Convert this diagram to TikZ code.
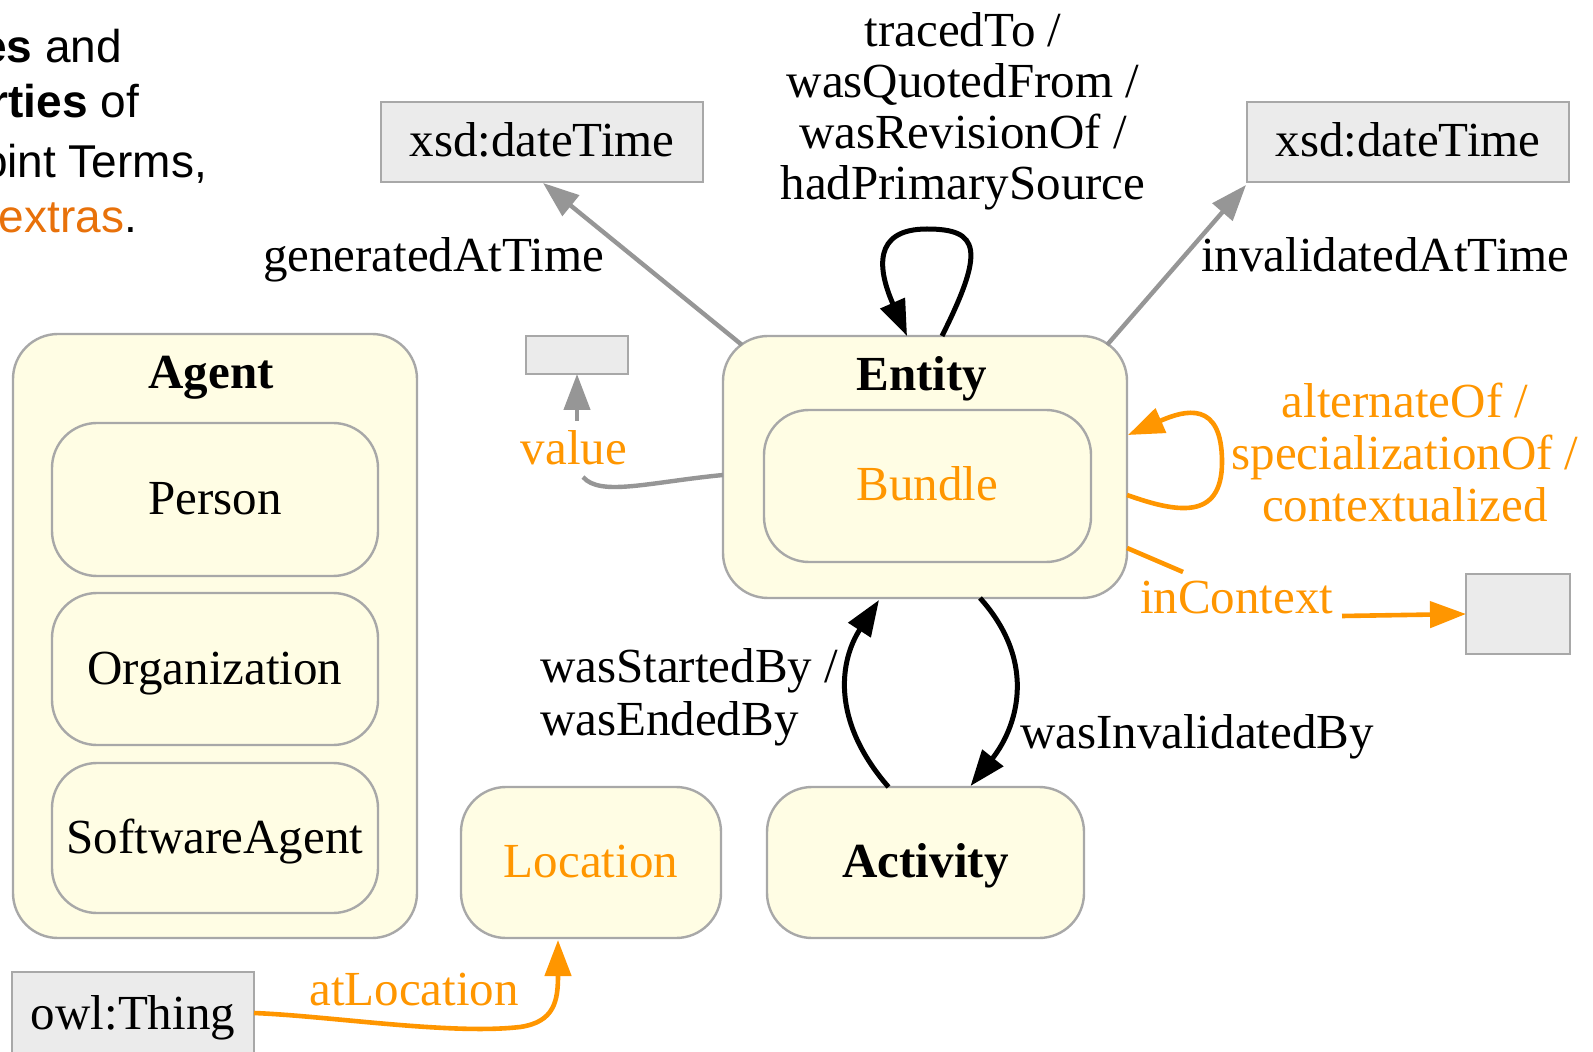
\documentclass[tikz,border=0pt]{standalone}
\usepackage{fontspec}
\setmainfont{Liberation Serif}
\newfontfamily\arialfont{Liberation Sans}
\usetikzlibrary{arrows.meta,calc}
\definecolor{boxfill}{RGB}{255,253,228}
\definecolor{boxline}{RGB}{168,168,168}
\definecolor{grayfill}{RGB}{235,235,235}
\definecolor{arrowgray}{RGB}{150,150,150}
\definecolor{provorange}{RGB}{255,150,0}
\definecolor{extrasorange}{RGB}{232,113,10}
\tikzset{
  diafont/.style={font=\fontsize{24.5}{25}\selectfont},
  textbox/.style={diafont, text height=24pt, text depth=9pt, align=center},
  classbox/.style={draw=boxline, line width=1.2pt, fill=boxfill, rounded corners=22.5pt},
  litbox/.style={draw=boxline, line width=1.2pt, fill=grayfill},
  lbl/.style={diafont, anchor=base},
  lblwest/.style={diafont, anchor=base west},
  arialtxt/.style={font=\arialfont\fontsize{23}{25}\selectfont, anchor=base east},
  grayedge/.style={draw=arrowgray, line width=2.2pt},
  blackedge/.style={draw=black, line width=2.5pt},
  orangeedge/.style={draw=provorange, line width=2.3pt},
  tipped/.style={-{Triangle[length=18pt,width=13pt]}},
}
\begin{document}
\begin{tikzpicture}[x=0.5pt,y=-0.5pt, every node/.style={inner sep=0pt, outer sep=0pt}]
\fill[white] (0,0) rectangle (1593,1052);
\useasboundingbox (0,0) rectangle (1593,1052);

% ---- top-left caption fragment
\node[arialtxt] (cap1) at (122,63) {\textbf{es} and};
\node[arialtxt] (cap2) at (139,118) {\textbf{rties} of};
\node[arialtxt] (cap3) at (207,178) {oint Terms,};
\node[arialtxt] (cap4) at (137,233) {\textcolor{extrasorange}{extras}.};

% ---- boxes
\node[classbox, minimum width=202pt, minimum height=302pt] (agent) at (215,636) {};
\node[lbl, font=\fontsize{24.5}{25}\selectfont\bfseries] (agentlbl) at (211,389) {Agent};
\node[classbox, textbox, minimum width=163pt, minimum height=76.5pt] (person) at (215,499.5) {Person};
\node[classbox, textbox, minimum width=163pt, minimum height=76pt] (org) at (215,669) {Organization};
\node[classbox, textbox, minimum width=163pt, minimum height=75pt] (sw) at (215,838) {SoftwareAgent};

\node[classbox, minimum width=202pt, minimum height=131pt] (entity) at (925,467) {};
\node[lbl, font=\fontsize{24.5}{25}\selectfont\bfseries] (entitylbl) at (922,391) {Entity};
\node[classbox, textbox, text=provorange, minimum width=163.5pt, minimum height=76pt] (bundle) at (927.5,486) {Bundle};

\node[classbox, textbox, text=provorange, minimum width=130pt, minimum height=75.5pt] (location) at (591,862.5) {Location};
\node[classbox, textbox, font=\fontsize{24.5}{25}\selectfont\bfseries, minimum width=158.5pt, minimum height=75.5pt] (activity) at (925.5,862.5) {Activity};

\node[litbox, textbox, minimum width=161pt, minimum height=40pt] (xsdL) at (542,142) {xsd:dateTime};
\node[litbox, textbox, minimum width=161pt, minimum height=40pt] (xsdR) at (1408,142) {xsd:dateTime};
\node[litbox, minimum width=51pt, minimum height=19pt] (valbox) at (577,355) {};
\node[litbox, minimum width=52pt, minimum height=40pt] (ctxbox) at (1518,614) {};
\node[litbox, textbox, minimum width=121pt, minimum height=42pt] (owl) at (133,1014) {owl:Thing};

% ---- free-end coordinates
\coordinate (valtail) at (583,477);
\coordinate (valstub) at (577,421);
\coordinate (ictail) at (1183,572);
\coordinate (ichead) at (1342,616);

% ---- edges
\draw[grayedge,tipped] ($(entity.north west)+(19,9)$) -- ($(xsdL.south)+(1,1)$);
\draw[grayedge,tipped] ($(entity.north east)+(-20,9)$) -- ($(xsdR.south west)+(-1,3)$);
\draw[blackedge,tipped] ($(entity.north)+(17,0)$) .. controls (985,250) and (980,229) .. (927,229)
   .. controls (872,229) and (878,270) .. ($(entity.north)+(-18,0)$);
\draw[grayedge] ($(entity.west)+(0,8)$) .. controls (650,482) and (600,497) .. (valtail);
\draw[grayedge,tipped] (valstub) -- (valbox.south);
\draw[orangeedge,tipped] ($(entity.east)+(0,28)$) .. controls (1175,512) and (1222,522) .. (1222,462)
   .. controls (1222,400) and (1185,410) .. ($(entity.east)+(1,-32)$);
\draw[orangeedge] ($(entity.east)+(0,81)$) -- (ictail);
\draw[orangeedge,tipped] (ichead) -- (ctxbox.west);
\draw[blackedge,tipped] ($(activity.north)+(-37,0)$) .. controls (830,720) and (840,660) .. ($(entity.south)+(-46,2)$);
\draw[blackedge,tipped] ($(entity.south)+(55,0)$) .. controls (1040,665) and (1015,730) .. ($(activity.north)+(45,-1)$);
\draw[orangeedge,tipped] ($(owl.east)+(0,-1)$) .. controls (330,1016) and (450,1035) .. (520,1027)
   .. controls (555,1022) and (558,1000) .. ($(location.south)+(-33,2)$);

% ---- edge labels
\node[lbl] (tr1) at (963,47) {tracedTo /};
\node[lbl] (tr2) at (963,98) {wasQuotedFrom /};
\node[lbl] (tr3) at (963,149) {wasRevisionOf /};
\node[lbl] (tr4) at (963,200) {hadPrimarySource};
\node[lblwest] (gen) at (263,272) {generatedAtTime};
\node[lblwest] (inv) at (1201,272) {invalidatedAtTime};
\node[lbl, text=provorange] (vallbl) at (574,465) {value};
\node[lbl, text=provorange] (alt1) at (1405,418) {alternateOf /};
\node[lbl, text=provorange] (alt2) at (1405,470) {specializationOf /};
\node[lbl, text=provorange] (alt3) at (1405,522) {contextualized};
\node[lblwest, text=provorange] (ictx) at (1140,613) {inContext};
\node[lblwest] (wsb1) at (540,682) {wasStartedBy /};
\node[lblwest] (wsb2) at (540,735) {wasEndedBy};
\node[lblwest] (winv) at (1020,748) {wasInvalidatedBy};
\node[lbl, text=provorange] (atloc) at (414,1005) {atLocation};
\end{tikzpicture}
\end{document}
